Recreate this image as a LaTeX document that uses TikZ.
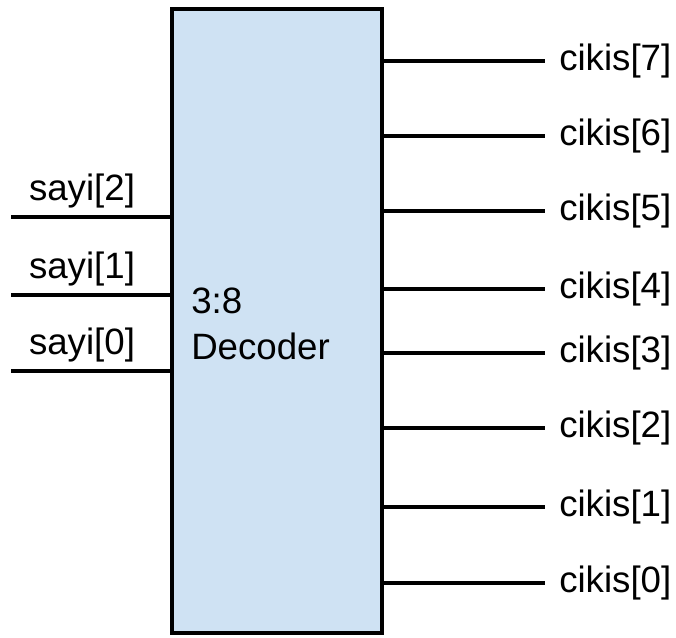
\documentclass[tikz,border=0pt]{standalone}
\usepackage{fontspec}
\setmainfont{Liberation Sans}
\usepackage{tikz}
\usetikzlibrary{positioning,calc}
\definecolor{decfill}{HTML}{CFE2F3}

\begin{document}
\begin{tikzpicture}[
    x=0.75pt, y=-0.75pt,
    decbox/.style={rectangle, draw, fill=decfill, line width=2.4pt, inner sep=0pt, minimum width=157.5pt, minimum height=468pt},
    wire/.style={line width=2.4pt},
    lbl/.style={font=\fontsize{27.5}{35}\selectfont, inner sep=0pt}
  ]
    \useasboundingbox (0,0) rectangle (676,637);
    \node[decbox] (dec) at (277,321) {};
    \node[lbl, anchor=west, align=left] (title) at (191,324) {3:8\\Decoder};

    % inputs
    \foreach \i/\y in {2/217,1/295,0/371} {
      \coordinate (in\i) at (11,\y);
      \draw[wire] (in\i) -- (in\i -| dec.west);
      \node[lbl, anchor=south] (s\i) at (82,\y-9) {sayi[\i]};
    }

    % outputs
    \foreach \i/\y in {7/61,6/136,5/211,4/289,3/353,2/428,1/507,0/583} {
      \coordinate (out\i) at (545,\y);
      \draw[wire] (out\i -| dec.east) -- (out\i);
      \node[lbl, anchor=west] (c\i) at (559,\y) {cikis[\i]};
    }
  \end{tikzpicture}
\end{document}
